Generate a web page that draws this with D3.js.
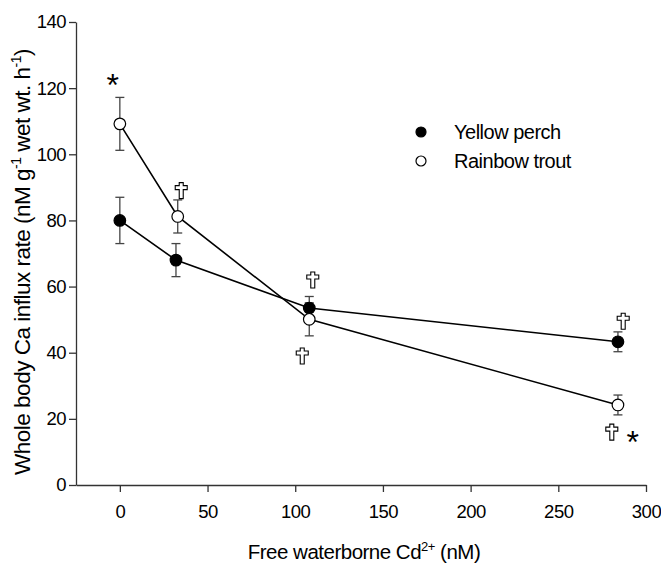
<!DOCTYPE html>
<html>
<head>
<meta charset="utf-8">
<script src="https://cdn.jsdelivr.net/npm/d3@7"></script>
<style>
  html, body { margin: 0; padding: 0; background: #fff; }
  svg { display: block; font-family: "Liberation Sans", Arial, sans-serif; }
</style>
</head>
<body>
<svg id="chart" width="661" height="563"></svg>
<script>
// ---- data ----
const cdConc = [0, 32, 108, 284];
const perchMean = [80, 68, 53.5, 43.3];
const perchErr = [7, 5, 3.5, 3];
const troutX = [0, 33, 108, 284];
const troutMean = [109.2, 81.2, 50.1, 24.2];
const troutErr = [8, 5, 5, 3];
const xTicks = [0, 50, 100, 150, 200, 250, 300];
const yTicks = [0, 20, 40, 60, 80, 100, 120, 140];
const seriesNames = ["Yellow perch", "Rainbow trout"];
// annotations: x, y (data coords)
const daggerPos = [[35, 89], [110, 62], [104, 39], [287, 49.5], [280.5, 16]];
const starPos = [[-4, 123], [292.5, 15]];

// ---- layout ----
const svg = d3.select("#chart");
const mLeft = 76, mRight = 646, mTop = 22, mBottom = 485;
const x = d3.scaleLinear().domain([-25, 300]).range([mLeft, mRight]);
const y = d3.scaleLinear().domain([0, 140]).range([mBottom, mTop]);
const axisColor = "#333";

// axes
const xAxis = svg.append("g").attr("transform", `translate(0,${mBottom})`)
  .call(d3.axisBottom(x).tickValues(xTicks).tickSize(7).tickPadding(13).tickSizeOuter(0));
const yAxis = svg.append("g").attr("transform", `translate(${mLeft},0)`)
  .call(d3.axisLeft(y).tickValues(yTicks).tickSize(7).tickPadding(3).tickSizeOuter(0));
[xAxis, yAxis].forEach(g => {
  g.select(".domain").attr("stroke", axisColor).attr("stroke-width", 1.3);
  g.selectAll(".tick line").attr("stroke", axisColor).attr("stroke-width", 1.3);
  g.selectAll(".tick text").attr("fill", "#000")
    .attr("font-family", "Liberation Sans, Arial, sans-serif")
    .attr("font-size", 18.5).attr("letter-spacing", -0.5);
});

// axis titles
const xt = svg.append("text").attr("x", 364).attr("y", 559)
  .attr("text-anchor", "middle").attr("font-size", 20.5).attr("letter-spacing", -0.5);
xt.append("tspan").text("Free waterborne Cd");
xt.append("tspan").attr("dy", -8).attr("font-size", 13).text("2+");
xt.append("tspan").attr("dy", 8).text(" (nM)");

const yt = svg.append("text").attr("transform", "translate(30,262) rotate(-90)")
  .attr("text-anchor", "middle").attr("font-size", 22.5).attr("letter-spacing", -0.5);
yt.append("tspan").text("Whole body Ca influx rate (nM g");
yt.append("tspan").attr("dy", -9).attr("font-size", 14).text("-1");
yt.append("tspan").attr("dy", 9).text(" wet wt. h");
yt.append("tspan").attr("dy", -9).attr("font-size", 14).text("-1");
yt.append("tspan").attr("dy", 9).text(")");

// series
const series = [
  { name: seriesNames[0], xs: cdConc, ys: perchMean, es: perchErr, fill: "#000" },
  { name: seriesNames[1], xs: troutX, ys: troutMean, es: troutErr, fill: "#fff" }
];
const line = d3.line().x(d => x(d[0])).y(d => y(d[1]));

series.forEach(s => {
  const pts = s.xs.map((v, i) => [v, s.ys[i], s.es[i]]);
  const eb = svg.append("g").attr("stroke", "#444").attr("stroke-width", 1.3);
  pts.forEach(p => {
    eb.append("line").attr("x1", x(p[0])).attr("x2", x(p[0])).attr("y1", y(p[1] - p[2])).attr("y2", y(p[1] + p[2]));
    [p[1] - p[2], p[1] + p[2]].forEach(v => {
      eb.append("line").attr("x1", x(p[0]) - 4.5).attr("x2", x(p[0]) + 4.5).attr("y1", y(v)).attr("y2", y(v));
    });
  });
});
series.forEach(s => {
  const pts = s.xs.map((v, i) => [v, s.ys[i]]);
  svg.append("path").datum(pts).attr("d", line).attr("fill", "none").attr("stroke", "#000").attr("stroke-width", 1.6);
});
series.forEach(s => {
  const pts = s.xs.map((v, i) => [v, s.ys[i]]);
  svg.append("g").selectAll("circle").data(pts).join("circle")
    .attr("cx", d => x(d[0])).attr("cy", d => y(d[1])).attr("r", 5.8)
    .attr("fill", s.fill).attr("stroke", "#000").attr("stroke-width", 1.2);
});

// annotations: outlined Latin cross symbol (dagger) and asterisks
const latinCross = {
  draw(ctx, size) {
    const k = Math.sqrt(size) / 16;
    const pts = [[-2,-8],[2,-8],[2,-5],[6,-5],[6,-1],[2,-1],[2,8],[-2,8],[-2,-1],[-6,-1],[-6,-5],[-2,-5]];
    ctx.moveTo(pts[0][0] * k, pts[0][1] * k);
    pts.slice(1).forEach(p => ctx.lineTo(p[0] * k, p[1] * k));
    ctx.closePath();
  }
};
svg.append("g").selectAll("path").data(daggerPos).join("path")
  .attr("transform", d => `translate(${x(d[0])},${y(d[1])})`)
  .attr("d", d3.symbol().type(latinCross).size(256))
  .attr("fill", "#fff").attr("stroke", "#000").attr("stroke-width", 1.1);
svg.append("g").selectAll("text").data(starPos).join("text")
  .attr("x", d => x(d[0])).attr("y", d => y(d[1]) + 18)
  .attr("text-anchor", "middle")
  .attr("font-family", "Liberation Sans, Arial").attr("font-size", 32).text("*");

// legend
const lg = svg.append("g");
series.forEach((s, i) => {
  const cy = 132 + i * 29;
  lg.append("circle").attr("cx", 421).attr("cy", cy).attr("r", 5)
    .attr("fill", s.fill).attr("stroke", "#000").attr("stroke-width", 1.2);
  lg.append("text").attr("x", 454).attr("y", cy).attr("dy", "0.36em")
    .attr("font-size", 20).attr("letter-spacing", -0.5).text(s.name);
});
</script>
</body>
</html>
